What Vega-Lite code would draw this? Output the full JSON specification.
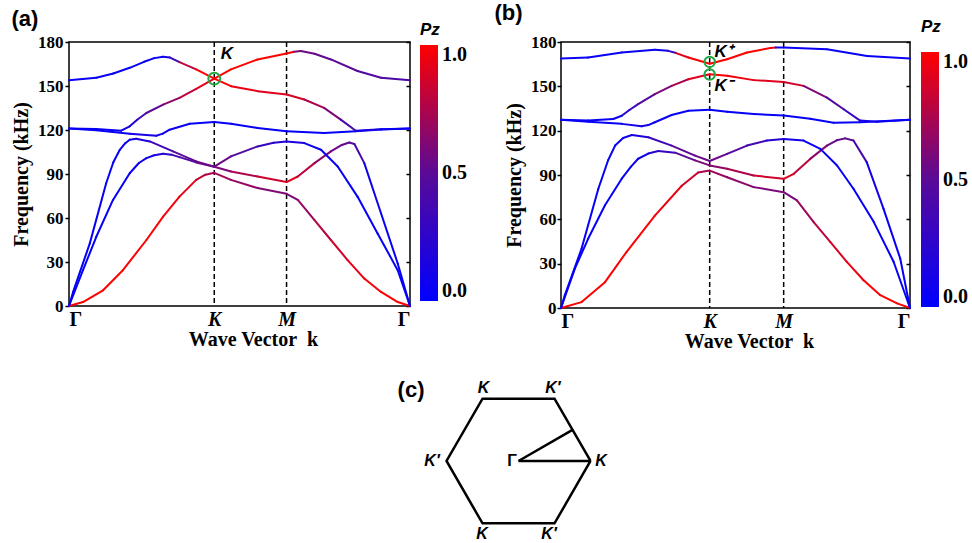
{
  "$schema": "https://vega.github.io/schema/vega-lite/v6.json",
  "padding": {"left": 10, "top": 1, "right": 0, "bottom": 0},
  "background": "white",
  "config": {
    "view": {"stroke": "black", "strokeWidth": 1.5},
    "axis": {"domain": false, "grid": false, "labelFont": "Liberation Serif", "labelFontWeight": "bold", "labelFontSize": 17, "labelColor": "black", "titleFont": "Liberation Serif", "titleFontSize": 20, "titleFontWeight": "bold", "titleColor": "black", "tickColor": "black", "tickWidth": 1.5}
  },
  "datasets": {
    "bands": [
      {"p":"a","b":1,"u":0,"f":0,"c":1},{"p":"a","b":1,"u":0.041,"f":2.7,"c":1},{"p":"a","b":1,"u":0.1,"f":10.7,"c":1},{"p":"a","b":1,"u":0.158,"f":24.4,"c":1},{"p":"a","b":1,"u":0.227,"f":45,"c":1},{"p":"a","b":1,"u":0.276,"f":60.9,"c":0.97},{"p":"a","b":1,"u":0.324,"f":74.6,"c":0.92},{"p":"a","b":1,"u":0.373,"f":86,"c":0.82},{"p":"a","b":1,"u":0.4,"f":89.5,"c":0.76},{"p":"a","b":1,"u":0.426,"f":90.8,"c":0.72},{"p":"a","b":1,"u":0.475,"f":86,"c":0.68},{"p":"a","b":1,"u":0.553,"f":80.4,"c":0.62},{"p":"a","b":1,"u":0.638,"f":76.5,"c":0.6},{"p":"a","b":1,"u":0.671,"f":72.3,"c":0.68},{"p":"a","b":1,"u":0.72,"f":58.6,"c":0.78},{"p":"a","b":1,"u":0.768,"f":45,"c":0.86},{"p":"a","b":1,"u":0.817,"f":31.3,"c":0.93},{"p":"a","b":1,"u":0.866,"f":18.7,"c":0.97},{"p":"a","b":1,"u":0.915,"f":9.6,"c":1},{"p":"a","b":1,"u":0.964,"f":2.7,"c":1},{"p":"a","b":1,"u":1,"f":0,"c":1},
      {"p":"a","b":2,"u":0,"f":0,"c":0.05},{"p":"a","b":2,"u":0.041,"f":24.4,"c":0.03},{"p":"a","b":2,"u":0.08,"f":47.2,"c":0.03},{"p":"a","b":2,"u":0.129,"f":72.3,"c":0.03},{"p":"a","b":2,"u":0.178,"f":90.5,"c":0.05},{"p":"a","b":2,"u":0.205,"f":97.5,"c":0.07},{"p":"a","b":2,"u":0.227,"f":100.8,"c":0.1},{"p":"a","b":2,"u":0.25,"f":102.8,"c":0.17},{"p":"a","b":2,"u":0.276,"f":103.8,"c":0.25},{"p":"a","b":2,"u":0.3,"f":103.2,"c":0.35},{"p":"a","b":2,"u":0.324,"f":101.5,"c":0.45},{"p":"a","b":2,"u":0.373,"f":97.9,"c":0.55},{"p":"a","b":2,"u":0.426,"f":95,"c":0.6},{"p":"a","b":2,"u":0.475,"f":91.7,"c":0.75},{"p":"a","b":2,"u":0.553,"f":88.3,"c":0.85},{"p":"a","b":2,"u":0.638,"f":84.5,"c":0.92},{"p":"a","b":2,"u":0.671,"f":88.3,"c":0.8},{"p":"a","b":2,"u":0.72,"f":97.4,"c":0.65},{"p":"a","b":2,"u":0.768,"f":105.4,"c":0.55},{"p":"a","b":2,"u":0.8,"f":109.8,"c":0.52},{"p":"a","b":2,"u":0.822,"f":111.5,"c":0.5},{"p":"a","b":2,"u":0.837,"f":110.5,"c":0.4},{"p":"a","b":2,"u":0.866,"f":97.4,"c":0.1},{"p":"a","b":2,"u":0.915,"f":63.2,"c":0.03},{"p":"a","b":2,"u":0.964,"f":29,"c":0.03},{"p":"a","b":2,"u":1,"f":0,"c":0.05},
      {"p":"a","b":3,"u":0,"f":0,"c":0.05},{"p":"a","b":3,"u":0.012,"f":9.6,"c":0.03},{"p":"a","b":3,"u":0.061,"f":42.7,"c":0.03},{"p":"a","b":3,"u":0.109,"f":83.7,"c":0.03},{"p":"a","b":3,"u":0.13,"f":98,"c":0.03},{"p":"a","b":3,"u":0.149,"f":106.5,"c":0.05},{"p":"a","b":3,"u":0.165,"f":111,"c":0.07},{"p":"a","b":3,"u":0.178,"f":113.4,"c":0.1},{"p":"a","b":3,"u":0.197,"f":114.1,"c":0.15},{"p":"a","b":3,"u":0.237,"f":112.2,"c":0.35},{"p":"a","b":3,"u":0.305,"f":105.4,"c":0.5},{"p":"a","b":3,"u":0.373,"f":98.6,"c":0.55},{"p":"a","b":3,"u":0.426,"f":95,"c":0.55},{"p":"a","b":3,"u":0.475,"f":102,"c":0.45},{"p":"a","b":3,"u":0.553,"f":108.8,"c":0.3},{"p":"a","b":3,"u":0.6,"f":111.3,"c":0.2},{"p":"a","b":3,"u":0.638,"f":112.2,"c":0.15},{"p":"a","b":3,"u":0.69,"f":111.1,"c":0.08},{"p":"a","b":3,"u":0.739,"f":106.5,"c":0.05},{"p":"a","b":3,"u":0.788,"f":95.1,"c":0.03},{"p":"a","b":3,"u":0.846,"f":74.6,"c":0.03},{"p":"a","b":3,"u":0.905,"f":49.5,"c":0.03},{"p":"a","b":3,"u":0.964,"f":24.4,"c":0.03},{"p":"a","b":3,"u":1,"f":0,"c":0.05},
      {"p":"a","b":4,"u":0,"f":121,"c":0.05},{"p":"a","b":4,"u":0.08,"f":119.8,"c":0.05},{"p":"a","b":4,"u":0.178,"f":117.5,"c":0.12},{"p":"a","b":4,"u":0.256,"f":116.1,"c":0.12},{"p":"a","b":4,"u":0.275,"f":117.5,"c":0.08},{"p":"a","b":4,"u":0.295,"f":120.2,"c":0.05},{"p":"a","b":4,"u":0.354,"f":124.3,"c":0.03},{"p":"a","b":4,"u":0.426,"f":125.5,"c":0.03},{"p":"a","b":4,"u":0.475,"f":124.3,"c":0.03},{"p":"a","b":4,"u":0.553,"f":121.4,"c":0.03},{"p":"a","b":4,"u":0.638,"f":119.1,"c":0.03},{"p":"a","b":4,"u":0.748,"f":118,"c":0.03},{"p":"a","b":4,"u":0.841,"f":119.1,"c":0.05},{"p":"a","b":4,"u":0.915,"f":120.3,"c":0.05},{"p":"a","b":4,"u":1,"f":121,"c":0.05},
      {"p":"a","b":5,"u":0,"f":121,"c":0.05},{"p":"a","b":5,"u":0.08,"f":120.7,"c":0.05},{"p":"a","b":5,"u":0.153,"f":119.5,"c":0.08},{"p":"a","b":5,"u":0.178,"f":122.5,"c":0.2},{"p":"a","b":5,"u":0.2,"f":127,"c":0.35},{"p":"a","b":5,"u":0.227,"f":131.6,"c":0.5},{"p":"a","b":5,"u":0.276,"f":137.3,"c":0.65},{"p":"a","b":5,"u":0.324,"f":141.9,"c":0.8},{"p":"a","b":5,"u":0.373,"f":148,"c":0.92},{"p":"a","b":5,"u":0.426,"f":155,"c":1},{"p":"a","b":5,"u":0.475,"f":149.9,"c":0.95},{"p":"a","b":5,"u":0.553,"f":146.5,"c":0.9},{"p":"a","b":5,"u":0.638,"f":144.2,"c":0.88},{"p":"a","b":5,"u":0.69,"f":140.8,"c":0.75},{"p":"a","b":5,"u":0.748,"f":135.1,"c":0.6},{"p":"a","b":5,"u":0.797,"f":127.1,"c":0.4},{"p":"a","b":5,"u":0.841,"f":119.5,"c":0.15},{"p":"a","b":5,"u":0.915,"f":120.5,"c":0.05},{"p":"a","b":5,"u":1,"f":121,"c":0.05},
      {"p":"a","b":6,"u":0,"f":154,"c":0.05},{"p":"a","b":6,"u":0.08,"f":155.6,"c":0.05},{"p":"a","b":6,"u":0.13,"f":158.5,"c":0.05},{"p":"a","b":6,"u":0.178,"f":162.4,"c":0.05},{"p":"a","b":6,"u":0.22,"f":166.5,"c":0.05},{"p":"a","b":6,"u":0.25,"f":169,"c":0.06},{"p":"a","b":6,"u":0.276,"f":170,"c":0.1},{"p":"a","b":6,"u":0.295,"f":169.5,"c":0.3},{"p":"a","b":6,"u":0.324,"f":166.3,"c":0.8},{"p":"a","b":6,"u":0.373,"f":161.3,"c":1},{"p":"a","b":6,"u":0.426,"f":155,"c":1},{"p":"a","b":6,"u":0.475,"f":161.3,"c":1},{"p":"a","b":6,"u":0.553,"f":168.1,"c":1},{"p":"a","b":6,"u":0.638,"f":172.2,"c":1},{"p":"a","b":6,"u":0.66,"f":173.3,"c":0.6},{"p":"a","b":6,"u":0.68,"f":173.8,"c":0.55},{"p":"a","b":6,"u":0.72,"f":172,"c":0.52},{"p":"a","b":6,"u":0.768,"f":168.1,"c":0.5},{"p":"a","b":6,"u":0.846,"f":160.2,"c":0.45},{"p":"a","b":6,"u":0.915,"f":155.6,"c":0.42},{"p":"a","b":6,"u":1,"f":154,"c":0.4},
      {"p":"b","b":1,"u":0,"f":0,"c":1},{"p":"b","b":1,"u":0.059,"f":4,"c":1},{"p":"b","b":1,"u":0.126,"f":17.5,"c":1},{"p":"b","b":1,"u":0.187,"f":37.7,"c":1},{"p":"b","b":1,"u":0.269,"f":62.5,"c":0.95},{"p":"b","b":1,"u":0.346,"f":82.7,"c":0.85},{"p":"b","b":1,"u":0.393,"f":91.7,"c":0.75},{"p":"b","b":1,"u":0.426,"f":93,"c":0.7},{"p":"b","b":1,"u":0.476,"f":88.5,"c":0.65},{"p":"b","b":1,"u":0.552,"f":81.8,"c":0.6},{"p":"b","b":1,"u":0.638,"f":78.4,"c":0.6},{"p":"b","b":1,"u":0.676,"f":72.8,"c":0.7},{"p":"b","b":1,"u":0.724,"f":58.1,"c":0.8},{"p":"b","b":1,"u":0.772,"f":44.6,"c":0.88},{"p":"b","b":1,"u":0.819,"f":31.2,"c":0.94},{"p":"b","b":1,"u":0.867,"f":18.8,"c":0.98},{"p":"b","b":1,"u":0.915,"f":8.7,"c":1},{"p":"b","b":1,"u":0.963,"f":3.1,"c":1},{"p":"b","b":1,"u":1,"f":0,"c":1},
      {"p":"b","b":2,"u":0,"f":0,"c":0.05},{"p":"b","b":2,"u":0.04,"f":26.8,"c":0.03},{"p":"b","b":2,"u":0.078,"f":47,"c":0.03},{"p":"b","b":2,"u":0.126,"f":69.5,"c":0.03},{"p":"b","b":2,"u":0.174,"f":87.5,"c":0.05},{"p":"b","b":2,"u":0.2,"f":95.5,"c":0.07},{"p":"b","b":2,"u":0.221,"f":101,"c":0.1},{"p":"b","b":2,"u":0.25,"f":104.5,"c":0.2},{"p":"b","b":2,"u":0.279,"f":106.2,"c":0.3},{"p":"b","b":2,"u":0.327,"f":105.1,"c":0.5},{"p":"b","b":2,"u":0.384,"f":99.9,"c":0.6},{"p":"b","b":2,"u":0.426,"f":96.5,"c":0.65},{"p":"b","b":2,"u":0.476,"f":94.2,"c":0.75},{"p":"b","b":2,"u":0.552,"f":89.7,"c":0.85},{"p":"b","b":2,"u":0.638,"f":87.4,"c":0.9},{"p":"b","b":2,"u":0.667,"f":90.8,"c":0.8},{"p":"b","b":2,"u":0.714,"f":100.9,"c":0.65},{"p":"b","b":2,"u":0.762,"f":109.9,"c":0.55},{"p":"b","b":2,"u":0.79,"f":113.5,"c":0.52},{"p":"b","b":2,"u":0.814,"f":114.8,"c":0.5},{"p":"b","b":2,"u":0.838,"f":113.3,"c":0.4},{"p":"b","b":2,"u":0.876,"f":98.7,"c":0.1},{"p":"b","b":2,"u":0.924,"f":67.2,"c":0.03},{"p":"b","b":2,"u":0.972,"f":33.5,"c":0.03},{"p":"b","b":2,"u":1,"f":0,"c":0.05},
      {"p":"b","b":3,"u":0,"f":0,"c":0.05},{"p":"b","b":3,"u":0.011,"f":8.7,"c":0.03},{"p":"b","b":3,"u":0.059,"f":40.2,"c":0.03},{"p":"b","b":3,"u":0.107,"f":80.7,"c":0.03},{"p":"b","b":3,"u":0.135,"f":100,"c":0.03},{"p":"b","b":3,"u":0.155,"f":109.9,"c":0.05},{"p":"b","b":3,"u":0.178,"f":115,"c":0.1},{"p":"b","b":3,"u":0.203,"f":117.1,"c":0.15},{"p":"b","b":3,"u":0.25,"f":115.5,"c":0.35},{"p":"b","b":3,"u":0.317,"f":109.9,"c":0.5},{"p":"b","b":3,"u":0.384,"f":103.1,"c":0.55},{"p":"b","b":3,"u":0.426,"f":99.5,"c":0.55},{"p":"b","b":3,"u":0.476,"f":104.3,"c":0.45},{"p":"b","b":3,"u":0.533,"f":109.9,"c":0.35},{"p":"b","b":3,"u":0.59,"f":113.3,"c":0.2},{"p":"b","b":3,"u":0.638,"f":114.4,"c":0.1},{"p":"b","b":3,"u":0.695,"f":113.3,"c":0.05},{"p":"b","b":3,"u":0.743,"f":107.7,"c":0.03},{"p":"b","b":3,"u":0.791,"f":96.4,"c":0.03},{"p":"b","b":3,"u":0.838,"f":80.7,"c":0.03},{"p":"b","b":3,"u":0.896,"f":58.3,"c":0.03},{"p":"b","b":3,"u":0.953,"f":31.3,"c":0.03},{"p":"b","b":3,"u":1,"f":0,"c":0.05},
      {"p":"b","b":4,"u":0,"f":127.4,"c":0.05},{"p":"b","b":4,"u":0.078,"f":126.1,"c":0.05},{"p":"b","b":4,"u":0.174,"f":124.6,"c":0.1},{"p":"b","b":4,"u":0.231,"f":123,"c":0.12},{"p":"b","b":4,"u":0.25,"f":123.8,"c":0.08},{"p":"b","b":4,"u":0.269,"f":125.7,"c":0.05},{"p":"b","b":4,"u":0.317,"f":130.6,"c":0.03},{"p":"b","b":4,"u":0.365,"f":133.5,"c":0.03},{"p":"b","b":4,"u":0.426,"f":134.2,"c":0.03},{"p":"b","b":4,"u":0.476,"f":132.8,"c":0.03},{"p":"b","b":4,"u":0.552,"f":131.3,"c":0.03},{"p":"b","b":4,"u":0.638,"f":130.2,"c":0.03},{"p":"b","b":4,"u":0.714,"f":128,"c":0.03},{"p":"b","b":4,"u":0.781,"f":125.3,"c":0.05},{"p":"b","b":4,"u":0.857,"f":125.7,"c":0.05},{"p":"b","b":4,"u":1,"f":127.4,"c":0.05},
      {"p":"b","b":5,"u":0,"f":127.4,"c":0.05},{"p":"b","b":5,"u":0.078,"f":126.8,"c":0.05},{"p":"b","b":5,"u":0.15,"f":127.9,"c":0.08},{"p":"b","b":5,"u":0.174,"f":130.1,"c":0.2},{"p":"b","b":5,"u":0.196,"f":134,"c":0.32},{"p":"b","b":5,"u":0.221,"f":138,"c":0.45},{"p":"b","b":5,"u":0.269,"f":144.7,"c":0.6},{"p":"b","b":5,"u":0.317,"f":150.3,"c":0.75},{"p":"b","b":5,"u":0.365,"f":154.8,"c":0.9},{"p":"b","b":5,"u":0.426,"f":158.2,"c":1},{"p":"b","b":5,"u":0.476,"f":157.1,"c":0.95},{"p":"b","b":5,"u":0.552,"f":154.2,"c":0.9},{"p":"b","b":5,"u":0.638,"f":153,"c":0.85},{"p":"b","b":5,"u":0.695,"f":150.3,"c":0.6},{"p":"b","b":5,"u":0.762,"f":142.4,"c":0.45},{"p":"b","b":5,"u":0.81,"f":134.5,"c":0.3},{"p":"b","b":5,"u":0.857,"f":126.8,"c":0.1},{"p":"b","b":5,"u":0.905,"f":126.1,"c":0.05},{"p":"b","b":5,"u":1,"f":127.4,"c":0.05},
      {"p":"b","b":6,"u":0,"f":168.8,"c":0.05},{"p":"b","b":6,"u":0.078,"f":169.5,"c":0.05},{"p":"b","b":6,"u":0.174,"f":172.9,"c":0.05},{"p":"b","b":6,"u":0.269,"f":174.7,"c":0.05},{"p":"b","b":6,"u":0.307,"f":174,"c":0.3},{"p":"b","b":6,"u":0.33,"f":172.5,"c":0.9},{"p":"b","b":6,"u":0.365,"f":169.5,"c":1},{"p":"b","b":6,"u":0.426,"f":165.3,"c":1},{"p":"b","b":6,"u":0.476,"f":168.3,"c":1},{"p":"b","b":6,"u":0.533,"f":172.9,"c":1},{"p":"b","b":6,"u":0.6,"f":176,"c":0.95},{"p":"b","b":6,"u":0.615,"f":176.2,"c":0.1},{"p":"b","b":6,"u":0.638,"f":176.2,"c":0.05},{"p":"b","b":6,"u":0.762,"f":175.1,"c":0.05},{"p":"b","b":6,"u":0.877,"f":170.6,"c":0.05},{"p":"b","b":6,"u":1,"f":168.8,"c":0.05}
    ]
  },
  "vconcat": [
    {
      "hconcat": [
        {
          "width": 341, "height": 264,
          "title": {"text": "(a)", "anchor": "start", "frame": "bounds", "font": "Liberation Sans", "fontSize": 22, "fontWeight": "bold", "color": "black", "offset": -9},
          "layer": [
            {
              "data": {"values": [{"u": 0.426}, {"u": 0.638}]},
              "mark": {"type": "rule", "strokeDash": [5, 3], "strokeWidth": 1.5, "color": "black"},
              "encoding": {"x": {"field": "u", "type": "quantitative"}}
            },
            {
              "data": {"name": "bands"},
              "transform": [
                {"filter": "datum.p == 'a'"},
                {"window": [{"op": "lead", "field": "u", "as": "u2"}, {"op": "lead", "field": "f", "as": "f2"}], "groupby": ["b"], "sort": [{"field": "u", "order": "ascending"}]},
                {"filter": "datum.u2 != null"}
              ],
              "mark": {"type": "rule", "strokeWidth": 2, "strokeCap": "round"},
              "encoding": {
                "x": {"field": "u", "type": "quantitative", "scale": {"domain": [0, 1], "nice": false, "zero": false},
                  "axis": {"values": [0, 0.426, 0.638, 1], "labelExpr": "datum.value == 0 || datum.value == 1 ? 'Γ' : (datum.value < 0.5 ? 'K' : 'M')", "labelFontStyle": {"condition": {"test": "datum.value > 0.1 && datum.value < 0.9", "value": "italic"}, "value": "normal"}, "labelFontSize": 20, "ticks": false, "labelPadding": 3, "title": "Wave Vector\u00a0\u00a0k", "titlePadding": 0, "titleX": 184}},
                "x2": {"field": "u2"},
                "y": {"field": "f", "type": "quantitative", "scale": {"domain": [0, 180], "nice": false},
                  "axis": {"values": [0, 30, 60, 90, 120, 150, 180], "tickSize": 4, "labelPadding": 2, "title": "Frequency (kHz)", "titlePadding": 6}},
                "y2": {"field": "f2"},
                "color": {"field": "c", "type": "quantitative",
                  "scale": {"domain": [0, 0.5, 1], "range": ["#0000ff", "#5a0a96", "#ff0000"], "interpolate": "rgb"},
                  "legend": {"title": "Pz", "orient": "none", "legendX": 351, "legendY": -20, "direction": "vertical", "gradientLength": 256, "gradientThickness": 18, "values": [0, 0.5, 1], "format": ".1f", "labelFont": "Liberation Serif", "labelFontWeight": "bold", "labelFontSize": 20, "labelColor": "black", "labelOffset": 4, "titleFont": "Liberation Sans", "titleFontStyle": "italic", "titleFontWeight": "bold", "titleFontSize": 17, "titleColor": "black", "titlePadding": 6, "gradientStrokeWidth": 0}}
              }
            },
            {
              "data": {"values": [{"u": 0.426, "f": 155}]},
              "mark": {"type": "point", "shape": "circle", "size": 140, "filled": false, "stroke": "#1faa45", "strokeWidth": 2, "opacity": 1},
              "encoding": {
                "x": {"field": "u", "type": "quantitative"},
                "y": {"field": "f", "type": "quantitative", "axis": {"orient": "right", "labels": false, "title": null, "tickSize": -4, "values": [0, 30, 60, 90, 120, 150, 180]}}
              }
            },
            {
              "data": {"values": [{"u": 0.445, "f": 171.5, "t": "K"}]},
              "mark": {"type": "text", "align": "left", "baseline": "middle", "font": "Liberation Sans", "fontSize": 17, "fontWeight": "bold", "fontStyle": "italic", "color": "black"},
              "encoding": {
                "x": {"field": "u", "type": "quantitative"},
                "y": {"field": "f", "type": "quantitative", "axis": null},
                "text": {"field": "t"}
              }
            }
          ],
          "resolve": {"axis": {"y": "independent"}}
        },
        {
          "width": 349, "height": 266,
          "title": {"text": "(b)", "anchor": "start", "frame": "bounds", "font": "Liberation Sans", "fontSize": 22, "fontWeight": "bold", "color": "black", "offset": -6, "dx": -10},
          "layer": [
            {
              "data": {"values": [{"u": 0.426}, {"u": 0.638}]},
              "mark": {"type": "rule", "strokeDash": [5, 3], "strokeWidth": 1.5, "color": "black"},
              "encoding": {"x": {"field": "u", "type": "quantitative"}}
            },
            {
              "data": {"name": "bands"},
              "transform": [
                {"filter": "datum.p == 'b'"},
                {"window": [{"op": "lead", "field": "u", "as": "u2"}, {"op": "lead", "field": "f", "as": "f2"}], "groupby": ["b"], "sort": [{"field": "u", "order": "ascending"}]},
                {"filter": "datum.u2 != null"}
              ],
              "mark": {"type": "rule", "strokeWidth": 2, "strokeCap": "round"},
              "encoding": {
                "x": {"field": "u", "type": "quantitative", "scale": {"domain": [0, 1], "nice": false, "zero": false},
                  "axis": {"values": [0, 0.426, 0.638, 1], "labelExpr": "datum.value == 0 || datum.value == 1 ? 'Γ' : (datum.value < 0.5 ? 'K' : 'M')", "labelFontStyle": {"condition": {"test": "datum.value > 0.1 && datum.value < 0.9", "value": "italic"}, "value": "normal"}, "labelFontSize": 20, "ticks": false, "labelPadding": 3, "title": "Wave Vector\u00a0\u00a0k", "titlePadding": 0, "titleX": 188}},
                "x2": {"field": "u2"},
                "y": {"field": "f", "type": "quantitative", "scale": {"domain": [0, 180], "nice": false},
                  "axis": {"values": [0, 30, 60, 90, 120, 150, 180], "tickSize": 4, "labelPadding": 1, "title": "Frequency (kHz)", "titlePadding": 6}},
                "y2": {"field": "f2"},
                "color": {"field": "c", "type": "quantitative",
                  "scale": {"domain": [0, 0.5, 1], "range": ["#0000ff", "#5a0a96", "#ff0000"], "interpolate": "rgb"},
                  "legend": {"title": "Pz", "orient": "none", "legendX": 360, "legendY": -23, "direction": "vertical", "gradientLength": 255, "gradientThickness": 18, "values": [0, 0.5, 1], "format": ".1f", "labelFont": "Liberation Serif", "labelFontWeight": "bold", "labelFontSize": 20, "labelColor": "black", "labelOffset": 4, "titleFont": "Liberation Sans", "titleFontStyle": "italic", "titleFontWeight": "bold", "titleFontSize": 17, "titleColor": "black", "titlePadding": 16, "gradientStrokeWidth": 0}}
              }
            },
            {
              "data": {"values": [{"u": 0.426, "f": 166.5}, {"u": 0.426, "f": 158}]},
              "mark": {"type": "point", "shape": "circle", "size": 110, "filled": false, "stroke": "#1faa45", "strokeWidth": 2, "opacity": 1},
              "encoding": {
                "x": {"field": "u", "type": "quantitative"},
                "y": {"field": "f", "type": "quantitative", "axis": {"orient": "right", "labels": false, "title": null, "tickSize": -4, "values": [0, 30, 60, 90, 120, 150, 180]}}
              }
            },
            {
              "data": {"values": [{"u": 0.44, "f": 173, "t": "K⁺"}, {"u": 0.44, "f": 150.5, "t": "K⁻"}]},
              "mark": {"type": "text", "align": "left", "baseline": "middle", "font": "Liberation Sans", "fontSize": 17, "fontWeight": "bold", "fontStyle": "italic", "color": "black"},
              "encoding": {
                "x": {"field": "u", "type": "quantitative"},
                "y": {"field": "f", "type": "quantitative", "axis": null},
                "text": {"field": "t"}
              }
            }
          ],
          "resolve": {"axis": {"y": "independent"}}
        }
      ],
      "spacing": 25,
      "resolve": {"scale": {"color": "independent"}}
    },
    {
      "width": 600, "height": 170,
      "view": {"stroke": null},
      "layer": [
        {
          "data": {"values": [
            {"o": 0, "hx": 1, "hy": 0}, {"o": 1, "hx": 0.5, "hy": 0.866}, {"o": 2, "hx": -0.5, "hy": 0.866}, {"o": 3, "hx": -1, "hy": 0},
            {"o": 4, "hx": -0.5, "hy": -0.866}, {"o": 5, "hx": 0.5, "hy": -0.866}, {"o": 6, "hx": 1, "hy": 0}
          ]},
          "mark": {"type": "line", "color": "black", "strokeWidth": 2.5, "strokeJoin": "miter"},
          "encoding": {
            "x": {"field": "hx", "type": "quantitative", "scale": {"domain": [-6.243, 2.09], "nice": false, "zero": false}, "axis": null},
            "y": {"field": "hy", "type": "quantitative", "scale": {"domain": [-1.125, 1.236], "nice": false, "zero": false}, "axis": null},
            "order": {"field": "o"}
          }
        },
        {
          "data": {"values": [{"hx": 0, "hy": 0, "hx2": 1, "hy2": 0}, {"hx": 0, "hy": 0, "hx2": 0.75, "hy2": 0.433}]},
          "mark": {"type": "rule", "color": "black", "strokeWidth": 2.5},
          "encoding": {
            "x": {"field": "hx", "type": "quantitative"},
            "y": {"field": "hy", "type": "quantitative"},
            "x2": {"field": "hx2"},
            "y2": {"field": "hy2"}
          }
        },
        {
          "data": {"values": [
            {"t": "K", "hx": -0.486, "hy": 1.014}, {"t": "K′", "hx": 0.479, "hy": 1.014}, {"t": "K′", "hx": -1.201, "hy": 0},
            {"t": "K", "hx": 1.146, "hy": 0}, {"t": "K", "hx": -0.507, "hy": -1.014}, {"t": "K′", "hx": 0.424, "hy": -1.014}
          ]},
          "mark": {"type": "text", "align": "center", "baseline": "middle", "font": "Liberation Sans", "fontSize": 16, "fontWeight": "bold", "fontStyle": "italic", "color": "black"},
          "encoding": {
            "x": {"field": "hx", "type": "quantitative"},
            "y": {"field": "hy", "type": "quantitative"},
            "text": {"field": "t"}
          }
        },
        {
          "data": {"values": [{"t": "Γ", "hx": -0.09, "hy": 0, "s": 16}, {"t": "(c)", "hx": -1.493, "hy": 0.986, "s": 22}]},
          "mark": {"type": "text", "align": "center", "baseline": "middle", "font": "Liberation Sans", "fontWeight": "bold", "color": "black"},
          "encoding": {
            "x": {"field": "hx", "type": "quantitative"},
            "y": {"field": "hy", "type": "quantitative"},
            "text": {"field": "t"},
            "size": {"field": "s", "type": "quantitative", "scale": null, "legend": null}
          }
        }
      ]
    }
  ],
  "spacing": 20
}
